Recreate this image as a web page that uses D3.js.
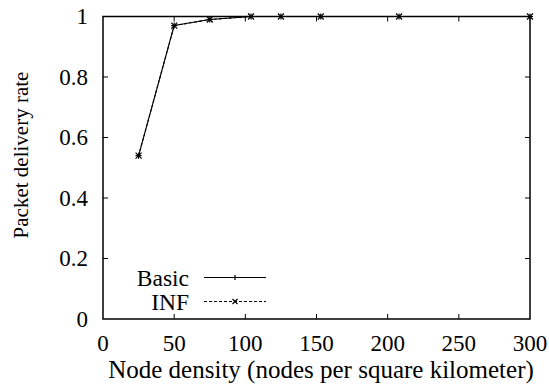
<!DOCTYPE html>
<html>
<head>
<meta charset="utf-8">
<script src="https://cdn.jsdelivr.net/npm/d3@7"></script>
<style>
  body { margin: 0; background: #fff; }
</style>
</head>
<body>
<svg id="chart" width="549" height="390"></svg>
<script>
// node density (nodes per square kilometer)
var density = [25, 50, 75, 104, 125, 153, 208, 300];
// packet delivery rate per series
var basicRate = [0.54, 0.97, 0.99, 1, 1, 1, 1, 1];
var infRate = [0.54, 0.97, 0.99, 1, 1, 1, 1, 1];
var seriesNames = ['Basic', 'INF'];
var xTicks = [0, 50, 100, 150, 200, 250, 300];
var yTicks = [0, 0.2, 0.4, 0.6, 0.8, 1];

var fontName = 'Liberation Serif';

var svg = d3.select('#chart');
var margin = { left: 103, right: 19, top: 16.5, bottom: 71 };
var width = 549 - margin.left - margin.right,
    height = 390 - margin.top - margin.bottom;

var x = d3.scaleLinear().domain([0, 300]).range([margin.left, margin.left + width]);
var y = d3.scaleLinear().domain([0, 1]).range([margin.top + height, margin.top]);

var g = svg.append('g');

function label(sel, size) {
  return sel.style('font-family', fontName).style('font-size', size + 'px').attr('fill', '#000');
}

// inward ticks on all four sides, gnuplot style
var tick = 5;
g.selectAll('.xt').data(xTicks.slice(1, -1)).enter().append('path')
  .attr('d', function (d) {
    return 'M' + x(d) + ',' + y(0) + 'v' + (-tick) + 'M' + x(d) + ',' + y(1) + 'v' + tick;
  })
  .attr('stroke', '#000').attr('stroke-width', 1);
g.selectAll('.yt').data(yTicks.slice(1, -1)).enter().append('path')
  .attr('d', function (d) {
    return 'M' + x(0) + ',' + y(d) + 'h' + tick + 'M' + x(300) + ',' + y(d) + 'h' + (-tick);
  })
  .attr('stroke', '#000').attr('stroke-width', 1);

// frame
g.append('rect')
  .attr('x', x(0)).attr('y', y(1))
  .attr('width', x(300) - x(0)).attr('height', y(0) - y(1))
  .attr('fill', 'none').attr('stroke', '#000').attr('stroke-width', 1.5);

// tick labels
label(g.selectAll('.xl').data(xTicks).enter().append('text'), 23)
  .attr('x', function (d) { return x(d); })
  .attr('y', 351)
  .attr('text-anchor', 'middle')
  .text(function (d) { return d; });
label(g.selectAll('.yl').data(yTicks).enter().append('text'), 23)
  .attr('x', 88)
  .attr('y', function (d) { return y(d) + 7.5; })
  .attr('text-anchor', 'end')
  .text(function (d) { return d; });

// axis titles
label(g.append('text'), 25)
  .attr('x', 321).attr('y', 378)
  .attr('text-anchor', 'middle')
  .text('Node density (nodes per square kilometer)');
label(g.append('text'), 21)
  .attr('transform', 'translate(28,155) rotate(-90)')
  .attr('text-anchor', 'middle')
  .text('Packet delivery rate');

var line = d3.line()
  .x(function (d, i) { return x(density[i]); })
  .y(function (d) { return y(d); });

var series = [
  { name: seriesNames[0], values: basicRate, dash: null, marker: 'plus' },
  { name: seriesNames[1], values: infRate, dash: '3,2', marker: 'cross' }
];

function marker(sel, type, s) {
  return sel.append('path')
    .attr('d', type === 'plus'
      ? 'M' + (-s) + ',0h' + (2 * s) + 'M0,' + (-s) + 'v' + (2 * s)
      : 'M' + (-s) + ',' + (-s) + 'l' + (2 * s) + ',' + (2 * s) + 'M' + (-s) + ',' + s + 'l' + (2 * s) + ',' + (-2 * s))
    .attr('stroke', '#000').attr('stroke-width', 1.2).attr('fill', 'none');
}

series.forEach(function (s, k) {
  g.append('path')
    .attr('d', line(s.values))
    .attr('fill', 'none')
    .attr('stroke', '#000')
    .attr('stroke-width', 1.1)
    .attr('stroke-dasharray', s.dash);
  s.values.forEach(function (v, i) {
    var m = g.append('g').attr('transform', 'translate(' + x(density[i]) + ',' + y(v) + ')');
    marker(m, s.marker, 3);
  });

  // legend entry
  var ly = 277.5 + k * 24;
  label(g.append('text'), 23.5)
    .attr('x', 189).attr('y', ly + 8)
    .attr('text-anchor', 'end')
    .text(s.name);
  g.append('path')
    .attr('d', 'M204,' + ly + 'H266')
    .attr('stroke', '#000').attr('stroke-width', 1)
    .attr('stroke-dasharray', s.dash);
  var lm = g.append('g').attr('transform', 'translate(235,' + ly + ')');
  marker(lm, s.marker, 2.5);
});
</script>
</body>
</html>
